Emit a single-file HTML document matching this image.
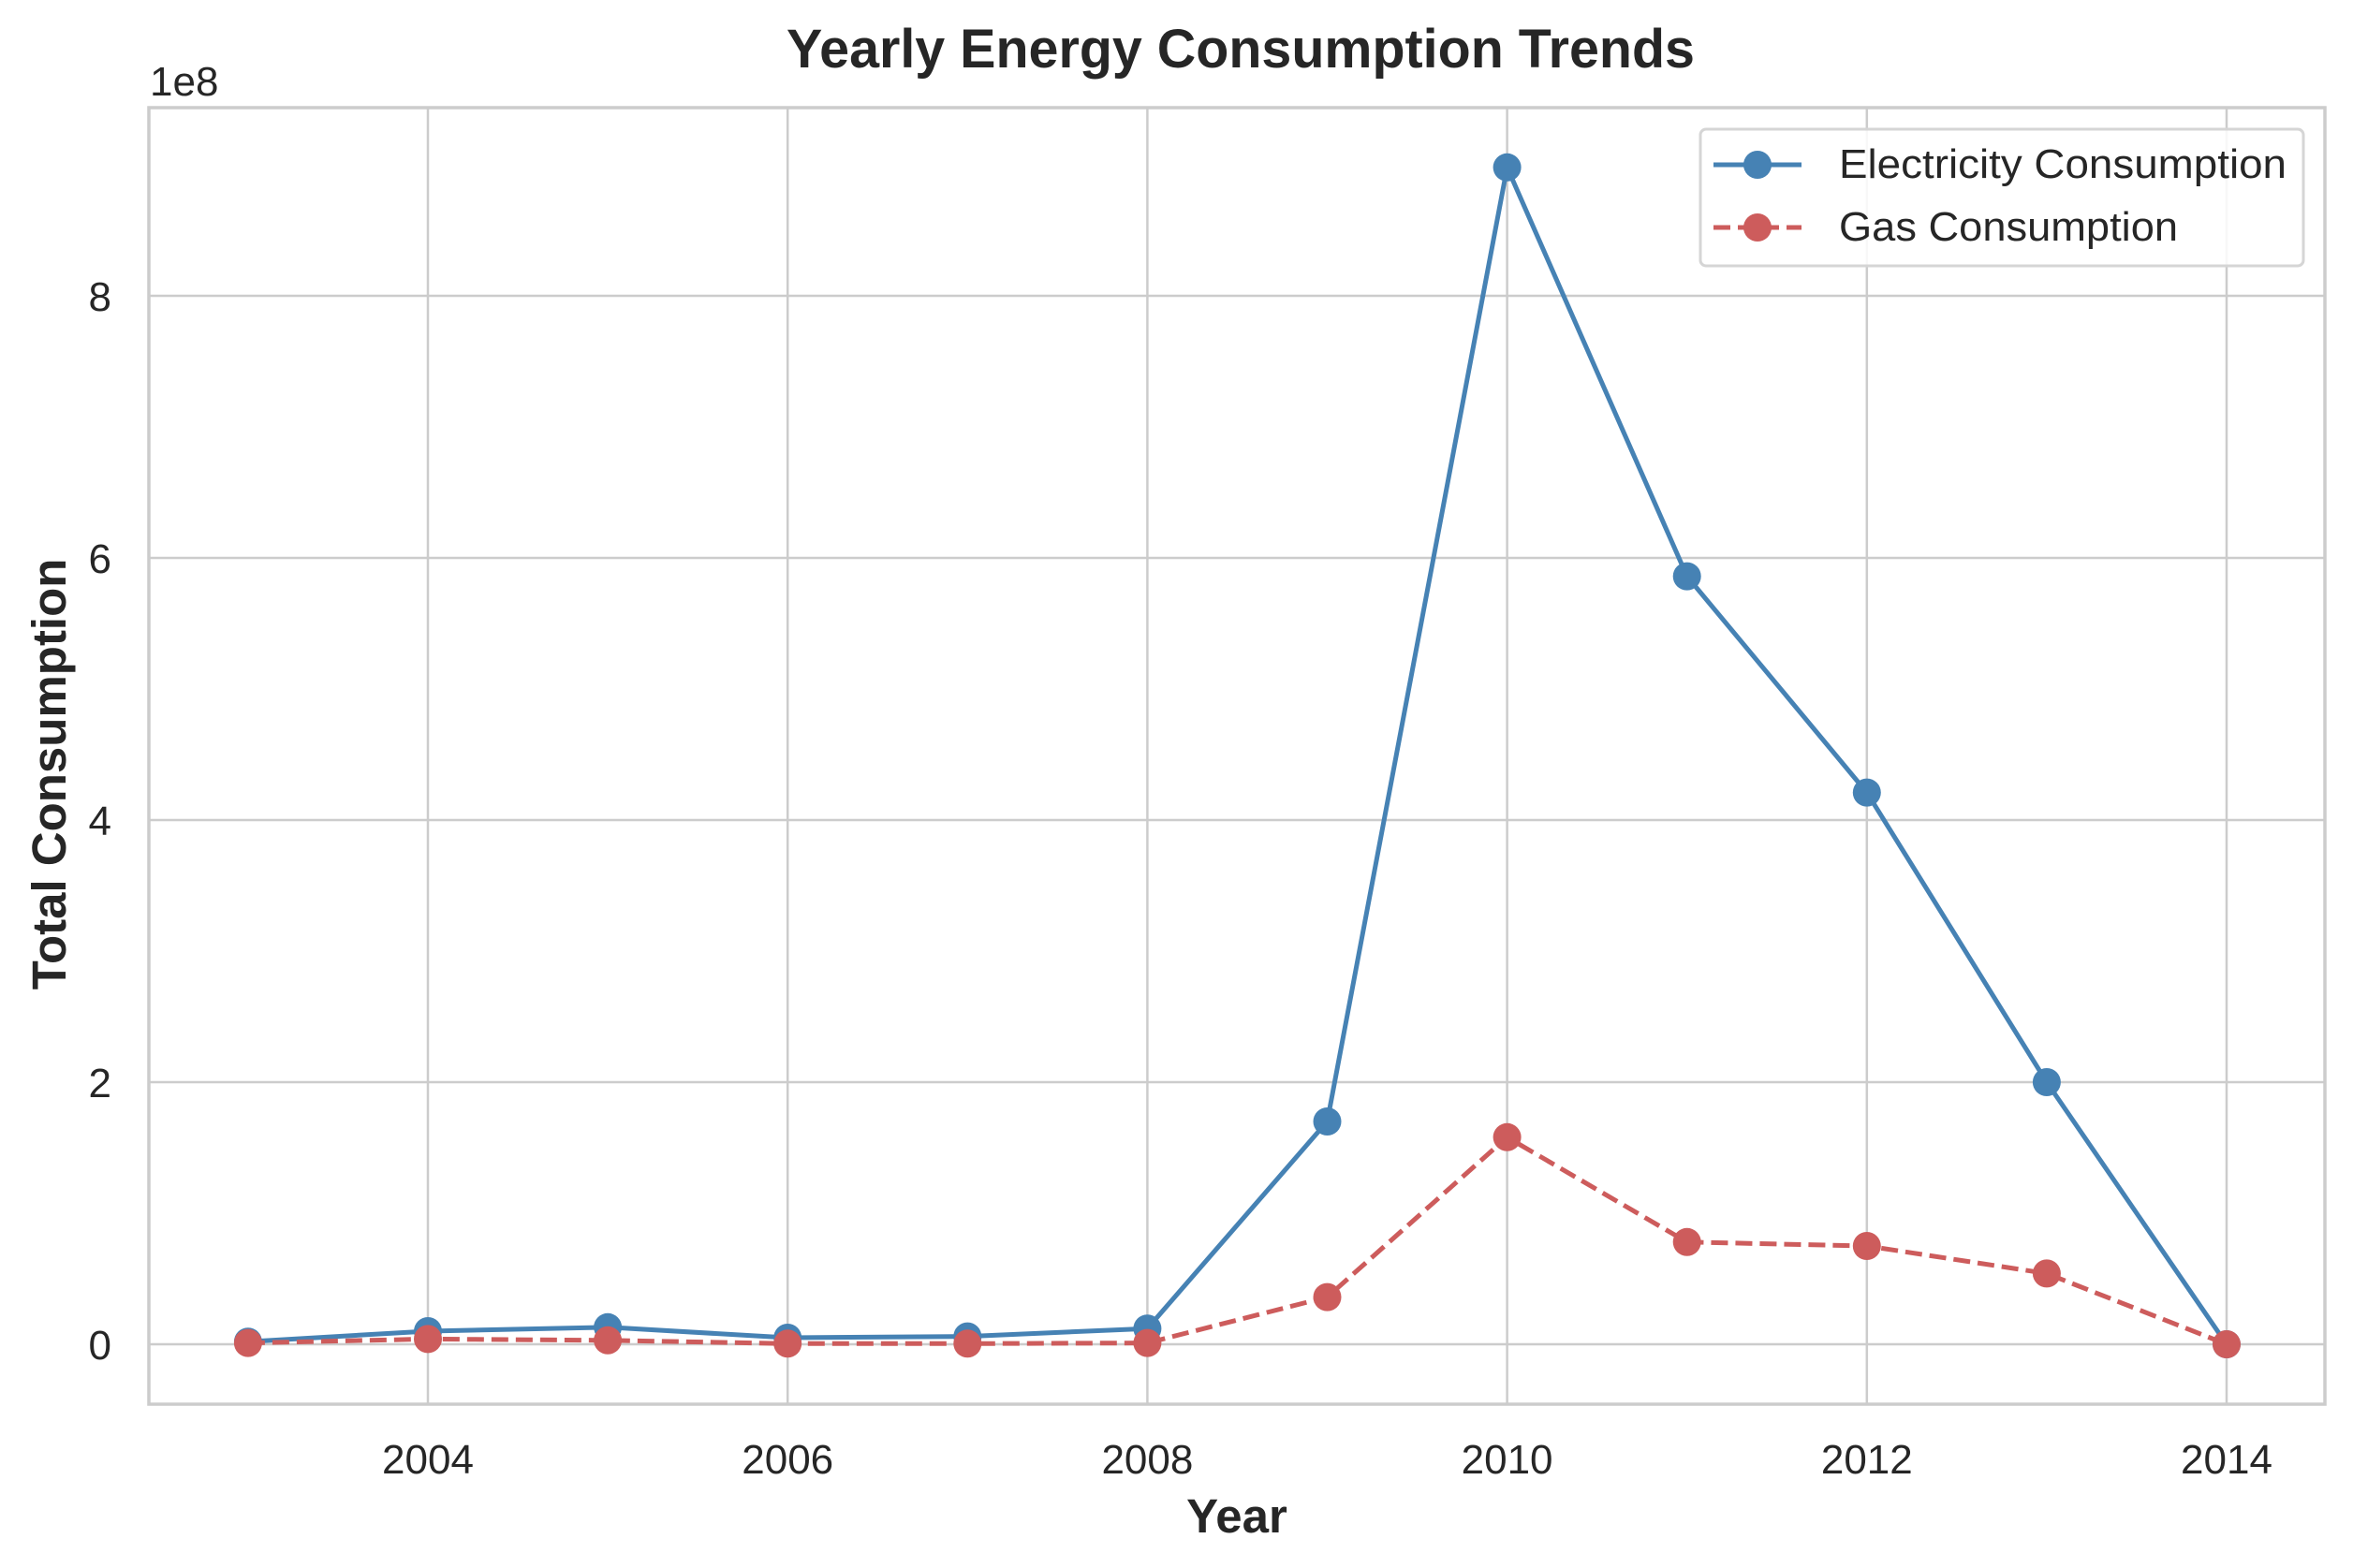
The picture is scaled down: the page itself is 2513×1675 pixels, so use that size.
<!DOCTYPE html>
<html><head><meta charset="utf-8"><style>
html,body{margin:0;padding:0;background:#fff}
svg{display:block;font-family:"Liberation Sans",Arial,sans-serif}
</style></head><body>
<svg id="chart" width="2513" height="1675" viewBox="0 0 2513 1675" xmlns="http://www.w3.org/2000/svg">
<rect width="2513" height="1675" fill="#fff"/>
<text x="1325" y="72" text-anchor="middle" font-size="58" font-weight="bold" fill="#262626" textLength="970" lengthAdjust="spacingAndGlyphs">Yearly Energy Consumption Trends</text>
<g id="grid"></g>
<g id="ticks"></g>
<rect x="159" y="115" width="2324" height="1385" fill="none" stroke="#cccccc" stroke-width="3.5"/>
<g id="series"></g>
<text x="160" y="102" font-size="44" fill="#262626">1e8</text>
<text transform="translate(70,827) rotate(-90)" text-anchor="middle" font-size="51" font-weight="bold" fill="#262626">Total Consumption</text>
<text x="1321" y="1637" text-anchor="middle" font-size="51" font-weight="bold" fill="#262626">Year</text>
<g>
<rect x="1816" y="138" width="644" height="146" rx="6" fill="#fff" fill-opacity="0.85" stroke="#d5d5d5" stroke-width="3"/>
<g>
<line x1="1830" y1="176" x2="1924" y2="176" stroke="#4682b4" stroke-width="5"/>
<circle cx="1877" cy="176" r="15" fill="#4682b4"/>
<text x="1964" y="190" font-size="44" fill="#262626" textLength="478" lengthAdjust="spacingAndGlyphs">Electricity Consumption</text>
</g>
<g>
<line x1="1830" y1="243" x2="1924" y2="243" stroke="#cd5c5c" stroke-width="5" stroke-dasharray="18 8"/>
<circle cx="1877" cy="243" r="15" fill="#cd5c5c"/>
<text x="1964" y="257" font-size="44" fill="#262626" textLength="362" lengthAdjust="spacingAndGlyphs">Gas Consumption</text>
</g>
</g>
</svg>
<script>
const years = [2003,2004,2005,2006,2007,2008,2009,2010,2011,2012,2013,2014];
const electricity = [2e6,1.0e7,1.3e7,5e6,6e6,1.2e7,1.70e8,8.98e8,5.86e8,4.21e8,2.0e8,0];
const gas = [1e6,4e6,3e6,5e5,5e5,1e6,3.6e7,1.58e8,7.8e7,7.5e7,5.4e7,0];
const xTicks = [2004,2006,2008,2010,2012,2014];
const yTicks = [0,2e8,4e8,6e8,8e8];
const yTickLabels = ["0","2","4","6","8"];

const NS = "http://www.w3.org/2000/svg";
function xs(v){return 457 + (v-2004)*192.1;}
function ys(v){return 1436 - v/2e8*280;}
function mk(tag, attrs, parent){const e=document.createElementNS(NS,tag);for(const k in attrs)e.setAttribute(k,attrs[k]);parent.appendChild(e);return e;}
const grid=document.getElementById('grid'), ticks=document.getElementById('ticks'), series=document.getElementById('series');
xTicks.forEach(t=>{
  const l=mk('line',{x1:xs(t),x2:xs(t),y1:115,y2:1500,stroke:'#cccccc','stroke-width':2.5},grid);
  
  
  const tx=mk('text',{x:xs(t),y:1574,'text-anchor':'middle','font-size':44,fill:'#262626'},ticks);
  tx.textContent=t;
  
  
});
yTicks.forEach((t,i)=>{
  const l=mk('line',{x1:159,x2:2483,y1:ys(t),y2:ys(t),stroke:'#cccccc','stroke-width':2.5},grid);
  
  
  const tx=mk('text',{x:119,y:ys(t)+16,'text-anchor':'end','font-size':44,fill:'#262626'},ticks);
  tx.textContent=yTickLabels[i];
  
  
});
function draw(vals,color,dash,name){
  const g=mk('g',{},series);
  
  
  const p=mk('polyline',{points:years.map((y,i)=>xs(y)+','+ys(vals[i])).join(' '),fill:'none',stroke:color,'stroke-width':5,'stroke-linejoin':'round'},g);
  if(dash)p.setAttribute('stroke-dasharray',dash);
  
  
  years.forEach((y,i)=>{
    const c=mk('circle',{cx:xs(y),cy:ys(vals[i]),r:15,fill:color},g);
    
    
  });
}
draw(electricity,'#4682b4',null,'electricity');
draw(gas,'#cd5c5c','18 8','gas');
</script>
</body></html>
